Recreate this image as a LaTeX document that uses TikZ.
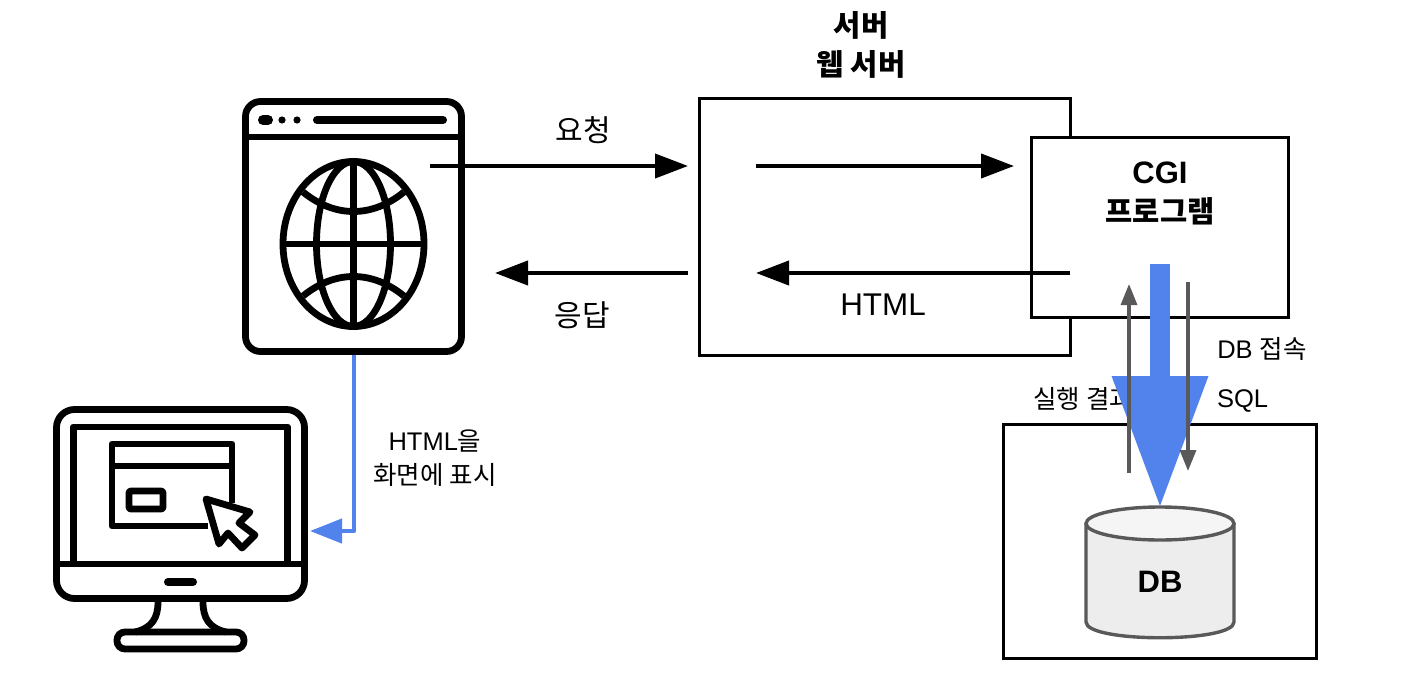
\documentclass[tikz,border=0pt]{standalone}
\usepackage{fontspec}
\setmainfont{Liberation Sans}
\newfontfamily\kr{Noto Sans CJK KR}
\usetikzlibrary{arrows.meta}
\definecolor{blueflow}{HTML}{5282EC}
\definecolor{grayflow}{HTML}{595959}
\tikzset{
  box/.style={draw,line width=1.5pt,fill=white,inner sep=0pt},
  icon/.style={line width=3.4pt,line join=round},
  msg/.style={line width=2pt,-{Triangle[length=16.5pt,width=12pt]}},
  sqlflow/.style={grayflow,line width=1.6pt,-{Triangle[length=10.5pt,width=8pt]}},
  big/.style={font=\fontsize{15}{20}\selectfont},
  small/.style={font=\fontsize{12.75}{17}\selectfont},
  head/.style={font=\fontsize{15.5}{19.5}\selectfont\bfseries,align=center}
}
\newcommand{\krhead}[1]{{\fontsize{14.8}{19.5}\selectfont\kr #1}}
\begin{document}
\begin{tikzpicture}[x=0.5pt,y=-0.5pt]
  \useasboundingbox (0,0) rectangle (1408,696);
  \node[box,minimum width=185.5pt,minimum height=128.5pt] (server) at (884.5,226.5) {};
  \node[box,minimum width=128.5pt,minimum height=90pt] (cgi) at (1159.5,227) {};
  \node[box,minimum width=156.5pt,minimum height=117pt] (dbbox) at (1159.5,541) {};
  \node[head] (servertitle) at (861,44.5) {\krhead{서버}\\\krhead{웹 서버}};
  \node[head] (cgititle) at (1160,193) {CGI\\\krhead{프로그램}};
  \node[big] (reqlabel) at (583,130) {\kr 요청};
  \node[big] (reslabel) at (582,315) {\kr 응답};
  \node[big,font=\fontsize{15.7}{20}\selectfont] (htmllabel) at (883,305) {HTML};
  \node[small,align=center] (showlabel) at (435,458) {HTML{\kr 을}\\{\kr 화면에 표시}};
  \node[small] (dblabel) at (1262,349) {DB {\kr 접속}};
  \node[small] (sqllabel) at (1242.5,401) {SQL};
  \node[small,anchor=west,inner sep=0pt] (resultlabel) at (1033,399) {\kr 실행 결과};
  % browser
  \draw[icon,rounded corners=7.5pt] (245.5,101.5) rectangle (461.5,351.5);
  \draw[icon] (245.5,137) to (461.5,137);
  \draw[icon,line width=4pt,line cap=round] (317,120) to (443,120);
  \draw[icon,line width=5pt,line cap=round] (263,120) to (268,120);
  \fill (282,120) circle (3.6);
  \fill (297,120) circle (3.6);
  \draw[icon] (353.5,244) ellipse (70.5 and 82.5);
  \draw[icon] (353.5,244) ellipse (37 and 82.5);
  \draw[icon] (353.5,162) to (353.5,326);
  \draw[icon] (283,244) to (424,244);
  \draw[icon] (303,192) .. controls (335,218) and (372,218) .. (404,192);
  \draw[icon] (303,296) .. controls (335,270) and (372,270) .. (404,296);
  % monitor
  \draw[icon,rounded corners=9pt] (56.5,409.5) rectangle (304.5,598.5);
  \draw[icon] (56.5,564) to (304.5,564);
  \draw[icon] (73.5,564) to (73.5,427) to (287.5,427) to (287.5,564);
  \draw[icon] (208,526) to (112,526) to (112,444) to (232,444) to (232,503);
  \draw[icon] (112,466) to (232,466);
  \draw[icon,rounded corners=1pt] (129,491) rectangle (163,509);
  \draw[icon,fill=white] (206,499) to (250,512) to (239,523) to (255,535) to (242,548)
    to (228,533) to (219,544) to cycle;
  \draw[icon,line width=4pt,line cap=round] (168,582) to (193,582);
  \draw[icon] (158,602) .. controls (158,618) and (152,628) .. (135,632);
  \draw[icon] (203,602) .. controls (203,618) and (209,628) .. (226,632);
  \draw[icon,rounded corners=4pt] (117,632) rectangle (244,649);
  % database
  \draw[grayflow,line width=1.7pt,fill=black!7]
    (1086,523.5) to (1086,622) .. controls (1086,643) and (1234,643) .. (1234,622)
    to (1234,523.5);
  \draw[grayflow,line width=1.7pt,fill=black!4] (1160,523.5) ellipse (74 and 16.5);
  \node[head] (dbtitle) at (1160,582) {DB};
  \coordinate (browserout) at (430,166);
  \coordinate (serverin) at (688,166);
  \coordinate (serverfwd) at (756,166);
  \coordinate (cgiin) at (1014,166);
  \coordinate (cgiout) at (1070,273);
  \coordinate (serverback) at (756,273);
  \coordinate (serverout) at (688,273);
  \coordinate (browserin) at (495,273);
  \coordinate (browserdown) at (354,355);
  \coordinate (bend) at (354,531);
  \coordinate (monitorin) at (310,531);
  \coordinate (cgidown) at (1160,264);
  \coordinate (dbtop) at (1160,508);
  \coordinate (sqlstart) at (1188,282);
  \coordinate (sqlend) at (1188,471);
  \coordinate (resstart) at (1129,473);
  \coordinate (resend) at (1129,284);
  \begin{scope}[msg]
    \draw (browserout) to (serverin);
    \draw (serverfwd) to (cgiin);
    \draw (cgiout) to (serverback);
    \draw (serverout) to (browserin);
  \end{scope}
  \draw[blueflow,line width=2.2pt,line join=round,-{Triangle[length=16pt,width=12pt]}]
    (browserdown) to (bend) to (monitorin);
  \draw[blueflow,line width=10pt,-{Triangle[length=66pt,width=45.5pt]}] (cgidown) to (dbtop);
  \begin{scope}[sqlflow]
    \draw (sqlstart) to (sqlend);
    \draw (resstart) to (resend);
  \end{scope}
\end{tikzpicture}
\end{document}
